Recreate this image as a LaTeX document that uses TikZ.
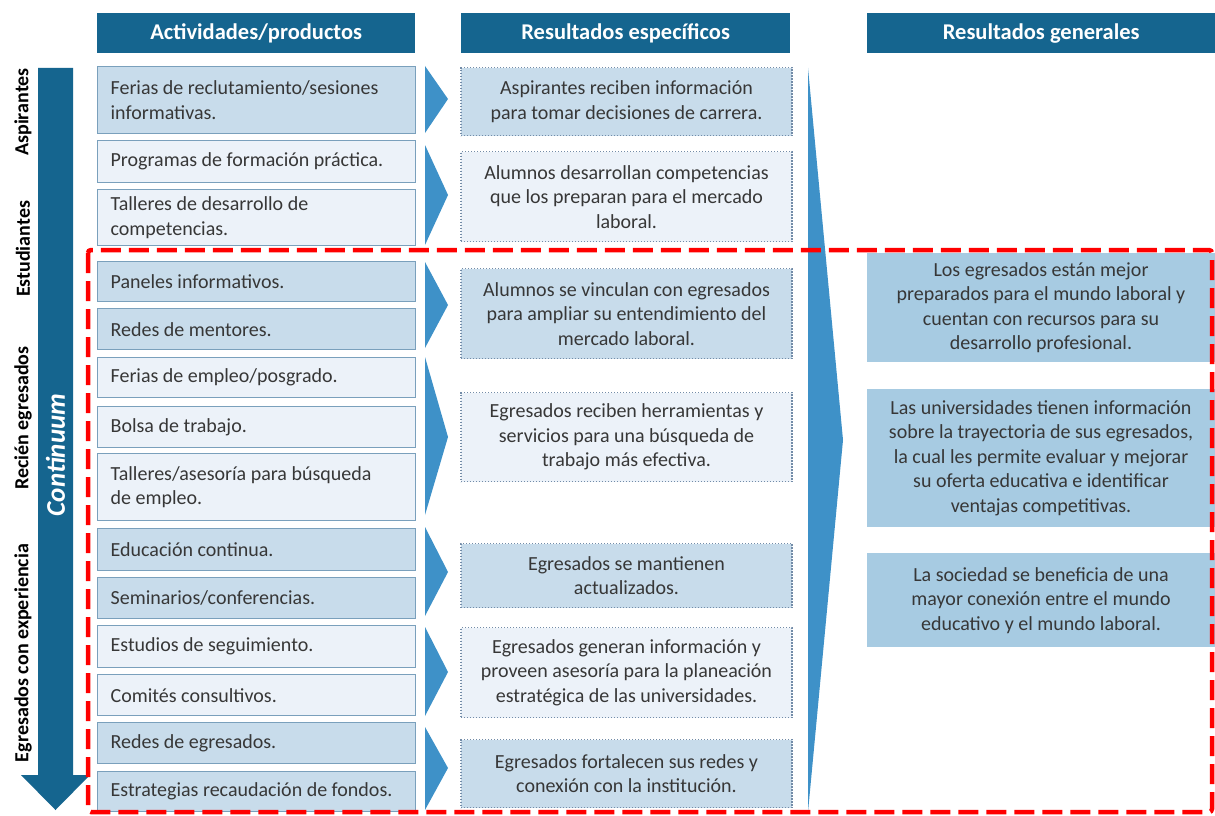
\documentclass[tikz,border=0pt]{standalone}
\usepackage{fontspec}
\setmainfont{Carlito}
\definecolor{hdr}{RGB}{21,101,143}
\definecolor{chev}{RGB}{62,145,200}
\definecolor{dfill}{RGB}{200,220,235}
\definecolor{lfill}{RGB}{236,242,249}
\definecolor{bordc}{RGB}{122,160,188}
\definecolor{dotc}{RGB}{115,140,168}
\definecolor{rfill}{RGB}{167,203,226}
\definecolor{txt}{RGB}{55,55,55}
\definecolor{redc}{RGB}{255,0,0}
\newcommand\bodyfont{\fontsize{20}{24.5}\selectfont}
\tikzset{
 hdrbox/.style={fill=hdr,text=white,font=\fontsize{22.5}{26}\selectfont\bfseries,inner sep=0pt,minimum height=40pt,anchor=north west},
 actbox/.style={draw=bordc,line width=1.3pt,text=txt,font=\bodyfont,align=flush left,text width=292pt,inner xsep=13pt,inner ysep=0pt,anchor=north west},
 resbox/.style={draw=dotc,line width=1.4pt,dash pattern=on 1.4pt off 1.6pt,text=txt,font=\bodyfont,align=center,inner sep=0pt,minimum width=331pt,anchor=north},
 genbox/.style={fill=rfill,text=txt,font=\bodyfont,align=center,inner sep=0pt,minimum width=348pt,anchor=north},
 sidelbl/.style={rotate=90,font=\fontsize{20}{24}\selectfont\bfseries,text=black,inner sep=0pt},
 chevf/.style={fill=chev},
}
\newcommand\actnode[5]{\node[actbox,fill=#4,minimum height=#3-#2] (#1) at (97,#2) {#5};}
\newcommand\resnode[5]{\node[resbox,fill=#4,minimum height=#3-#2] (#1) at (626.5,#2) {#5};}
\newcommand\gennode[4]{\node[genbox,minimum height=#3-#2] (#1) at (1041,#2) {#4};}
\begin{document}
\begin{tikzpicture}[x=1pt,y=-1pt]
\useasboundingbox (0,0) rectangle (1215,816);
\fill[white] (0,0) rectangle (1215,816);
% headers
\node[hdrbox,minimum width=318pt] (h1) at (97,13) {Actividades/productos};
\node[hdrbox,minimum width=329pt] (h2) at (461,13) {Resultados específicos};
\node[hdrbox,minimum width=348pt] (h3) at (867,13) {Resultados generales};
% continuum arrow
\fill[hdr] (38,68) -- (73,68) -- (73,775) -- (90,775) -- (55.5,810) -- (21,775) -- (38,775) -- cycle;
\node[rotate=90,font=\fontsize{27}{30}\selectfont\bfseries\itshape,text=white,inner sep=0pt] (cont) at (55.5,455) {Continuum};
% side labels
\node[sidelbl] (s1) at (23,112) {Aspirantes};
\node[sidelbl] (s2) at (23,249) {Estudiantes};
\node[sidelbl] (s3) at (23,418) {Recién egresados};
\node[sidelbl] (s4) at (23,653) {Egresados con experiencia};
% activities
\actnode{a1}{66}{133}{dfill}{Ferias de reclutamiento/sesiones\\informativas.}
\actnode{a2}{140}{182}{lfill}{Programas de formación práctica.}
\actnode{a3}{189}{245}{lfill}{Talleres de desarrollo de\\competencias.}
\actnode{a4}{261}{301}{dfill}{Paneles informativos.}
\actnode{a5}{308}{349}{dfill}{Redes de mentores.}
\actnode{a6}{357}{397}{lfill}{Ferias de empleo/posgrado.}
\actnode{a7}{406}{447}{lfill}{Bolsa de trabajo.}
\actnode{a8}{453}{520}{lfill}{Talleres/asesoría para búsqueda\\de empleo.}
\actnode{a9}{528}{570}{dfill}{Educación continua.}
\actnode{a10}{577}{618}{dfill}{Seminarios/conferencias.}
\actnode{a11}{625}{667}{lfill}{Estudios de seguimiento.}
\actnode{a12}{674}{715}{lfill}{Comités consultivos.}
\actnode{a13}{722}{763}{dfill}{Redes de egresados.}
\actnode{a14}{771}{811}{dfill}{Estrategias recaudación de fondos.}
% chevrons
\fill[chevf] (425,66) -- (448,99) -- (425,133) -- cycle;
\fill[chevf] (425,145) -- (448,195) -- (425,245) -- cycle;
\fill[chevf] (425,262) -- (448,305) -- (425,348) -- cycle;
\fill[chevf] (425,357) -- (448,437) -- (425,515) -- cycle;
\fill[chevf] (425,527) -- (448,572) -- (425,616) -- cycle;
\fill[chevf] (425,627) -- (448,672) -- (425,716) -- cycle;
\fill[chevf] (425,727) -- (448,768) -- (425,810) -- cycle;
% specific results
\resnode{r1}{67}{135}{dfill}{Aspirantes reciben información\\para tomar decisiones de carrera.}
\resnode{r2}{151}{241}{lfill}{Alumnos desarrollan competencias\\que los preparan para el mercado\\laboral.}
\resnode{r3}{268}{358}{dfill}{Alumnos se vinculan con egresados\\para ampliar su entendimiento del\\mercado laboral.}
\resnode{r4}{392}{481}{lfill}{Egresados reciben herramientas y\\servicios para una búsqueda de\\trabajo más efectiva.}
\resnode{r5}{543}{607}{dfill}{Egresados se mantienen\\actualizados.}
\resnode{r6}{627}{717}{lfill}{Egresados generan información y\\proveen asesoría para la planeación\\estratégica de las universidades.}
\resnode{r7}{739}{807}{dfill}{Egresados fortalecen sus redes y\\conexión con la institución.}
% big chevron
\fill[chevf] (808,68) -- (843,440) -- (808,812) -- cycle;
% general results
\gennode{g1}{253}{362}{Los egresados están mejor\\preparados para el mundo laboral y\\cuentan con recursos para su\\desarrollo profesional.}
\gennode{g2}{389}{527}{Las universidades tienen información\\sobre la trayectoria de sus egresados,\\la cual les permite evaluar y mejorar\\su oferta educativa e identificar\\ventajas competitivas.}
\gennode{g3}{553}{647}{La sociedad se beneficia de una\\mayor conexión entre el mundo\\educativo y el mundo laboral.}
% red dashed frame
\draw[redc,line width=4.5pt,dash pattern=on 20pt off 8pt,rounded corners=3pt] (88,250) rectangle (1212,812);
\end{tikzpicture}
\end{document}
